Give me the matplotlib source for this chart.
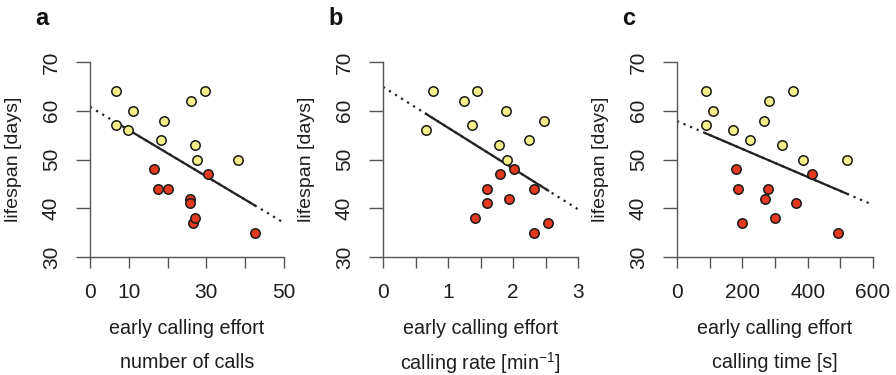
import numpy as np
import matplotlib.pyplot as plt

plt.rcParams['font.family'] = ['Liberation Sans', 'DejaVu Sans']
plt.rcParams['mathtext.default'] = 'regular'

# panel a: number of calls
a_yellow_x = [6.8, 6.8, 9.9, 11.2, 19.0, 18.2, 26.1, 29.6, 27.1, 27.5, 38.2]
a_yellow_y = [64, 57, 56, 60, 58, 54, 62, 64, 53, 50, 50]
a_red_x = [16.4, 17.6, 20.2, 25.8, 25.9, 26.5, 27.1, 30.3, 42.4]
a_red_y = [48, 44, 44, 42, 41, 37, 38, 47, 35]
a_fit = (60.8, -0.476)

# panel b: calling rate
b_yellow_x = [0.77, 0.66, 1.24, 1.45, 1.37, 1.89, 1.78, 1.90, 2.24, 2.47]
b_yellow_y = [64, 56, 62, 64, 57, 60, 53, 50, 54, 58]
b_red_x = [1.80, 2.01, 1.60, 1.60, 1.94, 1.41, 2.33, 2.33, 2.54]
b_red_y = [47, 48, 44, 41, 42, 38, 44, 35, 37]
b_fit = (64.9, -8.37)

# panel c: calling time
c_yellow_x = [90, 88, 110, 171, 224, 267, 281, 354, 320, 387, 521]
c_yellow_y = [64, 57, 60, 56, 54, 58, 62, 64, 53, 50, 50]
c_red_x = [182, 186, 200, 270, 279, 301, 365, 412, 492]
c_red_y = [48, 44, 37, 42, 44, 38, 41, 47, 35]
c_fit = (57.9, -0.0287)

panels = [
    dict(letter='a', left=90, right=284, xmax=50, xstep=10, xlabels=[0, 10, 30, 50],
         yx=a_yellow_x, yy=a_yellow_y, rx=a_red_x, ry=a_red_y, fit=a_fit,
         sub='number of calls'),
    dict(letter='b', left=383, right=578, xmax=3, xstep=0.5, xlabels=[0, 1, 2, 3],
         yx=b_yellow_x, yy=b_yellow_y, rx=b_red_x, ry=b_red_y, fit=b_fit,
         sub='calling rate [min$^{-1}$]'),
    dict(letter='c', left=677, right=873, xmax=600, xstep=100, xlabels=[0, 200, 400, 600],
         yx=c_yellow_x, yy=c_yellow_y, rx=c_red_x, ry=c_red_y, fit=c_fit,
         sub='calling time [s]'),
]

W, H = 896, 375
fig = plt.figure(figsize=(W / 100, H / 100), dpi=100)
axis_col = '#555555'
text_col = '#1e1e1e'
top, bottom = 62, 257

for p in panels:
    ax = fig.add_axes([p['left'] / W, (H - bottom) / H,
                       (p['right'] - p['left']) / W, (bottom - top) / H])
    ax.set_xlim(0, p['xmax'])
    ax.set_ylim(30, 70)
    for s in ['top', 'right']:
        ax.spines[s].set_visible(False)
    for s in ['left', 'bottom']:
        ax.spines[s].set_color(axis_col)
        ax.spines[s].set_linewidth(1.0)

    xt = np.arange(0, p['xmax'] + p['xstep'] / 2, p['xstep'])
    ax.set_xticks(xt)
    ax.set_xticklabels([(f"{v:g}" if any(abs(v - l) < 1e-9 for l in p['xlabels']) else '') for v in xt])
    ax.set_yticks([30, 40, 50, 60, 70])
    ax.tick_params(axis='both', colors=axis_col, labelcolor=text_col, labelsize=15, width=1.0)
    ax.tick_params(axis='x', length=8, pad=11)
    ax.tick_params(axis='y', length=10, pad=11)
    for lab in ax.get_yticklabels():
        lab.set_rotation(90)
        lab.set_va('center')

    # regression line: dotted over the full range, solid over the data range
    b0, b1 = p['fit']
    xs_all = np.array([0, p['xmax']])
    ax.plot(xs_all, b0 + b1 * xs_all, color='#222222', lw=1.6, ls=(0, (1, 2.2)), zorder=2)
    allx = p['yx'] + p['rx']
    xs = np.array([min(allx), max(allx)])
    ax.plot(xs, b0 + b1 * xs, color='#222222', lw=1.6, zorder=2.5)

    ax.scatter(p['yx'], p['yy'], s=46, c='#f6ef8b', edgecolors='#1a1a1a', linewidths=1.1, zorder=3, clip_on=False)
    ax.scatter(p['rx'], p['ry'], s=46, c='#e3391f', edgecolors='#1a1a1a', linewidths=1.1, zorder=3, clip_on=False)

    ax.set_ylabel('lifespan [days]', fontsize=14, color=text_col, labelpad=14)
    cx = (p['left'] + p['right']) / 2 / W
    fig.text(cx, (H - 328) / H, 'early calling effort', ha='center', va='center', fontsize=14.2, color=text_col)
    fig.text(cx, (H - 363) / H, p['sub'], ha='center', va='center', fontsize=14.2, color=text_col)
    fig.text((p['left'] - 55) / W, (H - 25) / H, p['letter'], ha='left', va='baseline',
             fontsize=17, fontweight='bold', color='#111111')

fig.savefig('out.png', dpi=100)
